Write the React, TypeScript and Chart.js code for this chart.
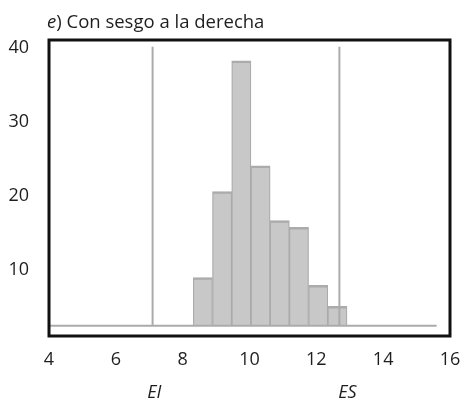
import React, { useEffect, useRef } from "react";
import { Chart, registerables } from "chart.js";

Chart.register(...registerables);

// Histogram bins (centres) and their frequencies
const binCenters = [8.605, 9.18, 9.755, 10.33, 10.905, 11.48, 12.055, 12.63];
const frequencies = [8.9, 20.5, 38.2, 24.0, 16.6, 15.7, 7.85, 5.0];
const baseLevel = 2.4;
const baselineX = [4.03, 15.6];

// Specification limits
const limitNames = ["EI", "ES"];
const limitValues = [7.1, 12.69];
const limitLabelX = [7.15, 12.93];
const limitTop = 40.1;

// Axes
const xTicks = [4, 6, 8, 10, 12, 14, 16];
const yTicks = [10, 20, 30, 40];
const xRange = [4, 16];
const yRange = [1, 41];

const titleItalic = "e";
const titleRest = ") Con sesgo a la derecha";

const FONT = '"Open Sans", "Noto Sans", sans-serif';
const TEXT = "#1e1e1e";
const GRAY_LINE = "#ababab";
const BAR_FILL = "#c8c8c8";

const framePlugin = {
  id: "frameAndTitle",
  afterDraw(chart: any) {
    const { ctx, chartArea: a } = chart;
    ctx.save();
    ctx.strokeStyle = "#111111";
    ctx.lineWidth = 3;
    ctx.strokeRect(a.left, a.top, a.right - a.left, a.bottom - a.top);
    ctx.fillStyle = TEXT;
    ctx.textBaseline = "alphabetic";
    ctx.textAlign = "left";
    const x0 = a.left - 2;
    const y0 = a.top - 12;
    ctx.font = `italic 18.5px ${FONT}`;
    ctx.fillText(titleItalic, x0, y0);
    const w = ctx.measureText(titleItalic).width;
    ctx.font = `18.5px ${FONT}`;
    ctx.fillText(titleRest, x0 + w, y0);
    ctx.restore();
  },
};

export default function App() {
  const canvasRef = useRef<HTMLCanvasElement | null>(null);

  useEffect(() => {
    let chart: Chart | null = null;
    let cancelled = false;

    const build = () => {
      if (cancelled || !canvasRef.current) return;
      const lineDs = (pts: { x: number; y: number }[]) => ({
        type: "line" as const,
        data: pts,
        borderColor: GRAY_LINE,
        borderWidth: 2,
        pointRadius: 0,
        fill: false,
        tension: 0,
        order: 1,
      });

      chart = new Chart(canvasRef.current, {
        type: "bar",
        data: {
          datasets: [
            {
              type: "bar",
              data: binCenters.map((x, i) => ({ x, y: frequencies[i] })),
              backgroundColor: BAR_FILL,
              borderColor: GRAY_LINE,
              borderWidth: { top: 2.5, left: 1.25, right: 1.25, bottom: 0 },
              borderSkipped: false,
              base: baseLevel,
              barPercentage: 1,
              categoryPercentage: 1,
              grouped: false,
              order: 2,
            } as any,
            lineDs([
              { x: baselineX[0], y: baseLevel },
              { x: baselineX[1], y: baseLevel },
            ]),
            ...limitValues.map((v) =>
              lineDs([
                { x: v, y: baseLevel },
                { x: v, y: limitTop },
              ])
            ),
          ],
        },
        options: {
          responsive: false,
          animation: false,
          devicePixelRatio: 1,
          layout: {
            autoPadding: false,
            padding: { top: 40, right: 13, bottom: 0, left: 0 },
          },
          plugins: {
            legend: { display: false },
            tooltip: { enabled: false },
            title: { display: false },
          },
          scales: {
            x: {
              type: "linear",
              position: "bottom",
              min: xRange[0],
              max: xRange[1],
              offset: false,
              weight: 0,
              grid: { display: false, drawTicks: true, tickLength: 13 },
              border: { display: false },
              afterBuildTicks: (scale: any) => {
                scale.ticks = xTicks.map((v) => ({ value: v }));
              },
              afterFit: (scale: any) => {
                scale.height = 33;
              },
              ticks: {
                autoSkip: false,
                maxRotation: 0,
                padding: 0,
                color: TEXT,
                font: { family: FONT, size: 18 },
                callback: (v: any) => String(v),
              },
            },
            x2: {
              type: "linear",
              axis: "x",
              position: "bottom",
              min: xRange[0],
              max: xRange[1],
              offset: false,
              weight: 1,
              grid: { display: false, drawTicks: true, tickLength: 13 },
              border: { display: false },
              afterBuildTicks: (scale: any) => {
                scale.ticks = limitLabelX.map((v) => ({ value: v }));
              },
              afterFit: (scale: any) => {
                scale.height = 33;
              },
              ticks: {
                autoSkip: false,
                maxRotation: 0,
                padding: 0,
                color: TEXT,
                font: { family: FONT, size: 18, style: "italic" },
                callback: (_v: any, i: number) => limitNames[i],
              },
            } as any,
            y: {
              type: "linear",
              min: yRange[0],
              max: yRange[1],
              grid: { display: false, drawTicks: false },
              border: { display: false },
              afterBuildTicks: (scale: any) => {
                scale.ticks = yTicks.map((v) => ({ value: v }));
              },
              afterFit: (scale: any) => {
                scale.width = 49;
              },
              ticks: {
                padding: 20,
                color: TEXT,
                font: { family: FONT, size: 18 },
                callback: (v: any) => String(v),
              },
            },
          },
        } as any,
        plugins: [framePlugin],
      });
    };

    const fonts = (document as any).fonts;
    if (fonts && fonts.load) {
      Promise.all([
        fonts.load(`18px ${FONT}`),
        fonts.load(`italic 18px ${FONT}`),
      ])
        .catch(() => null)
        .then(build);
    } else {
      build();
    }

    return () => {
      cancelled = true;
      if (chart) chart.destroy();
    };
  }, []);

  return (
    <div
      style={{
        position: "absolute",
        left: 0,
        top: 0,
        width: 463,
        height: 402,
        background: "#ffffff",
      }}
    >
      <canvas ref={canvasRef} width={463} height={402} />
    </div>
  );
}
